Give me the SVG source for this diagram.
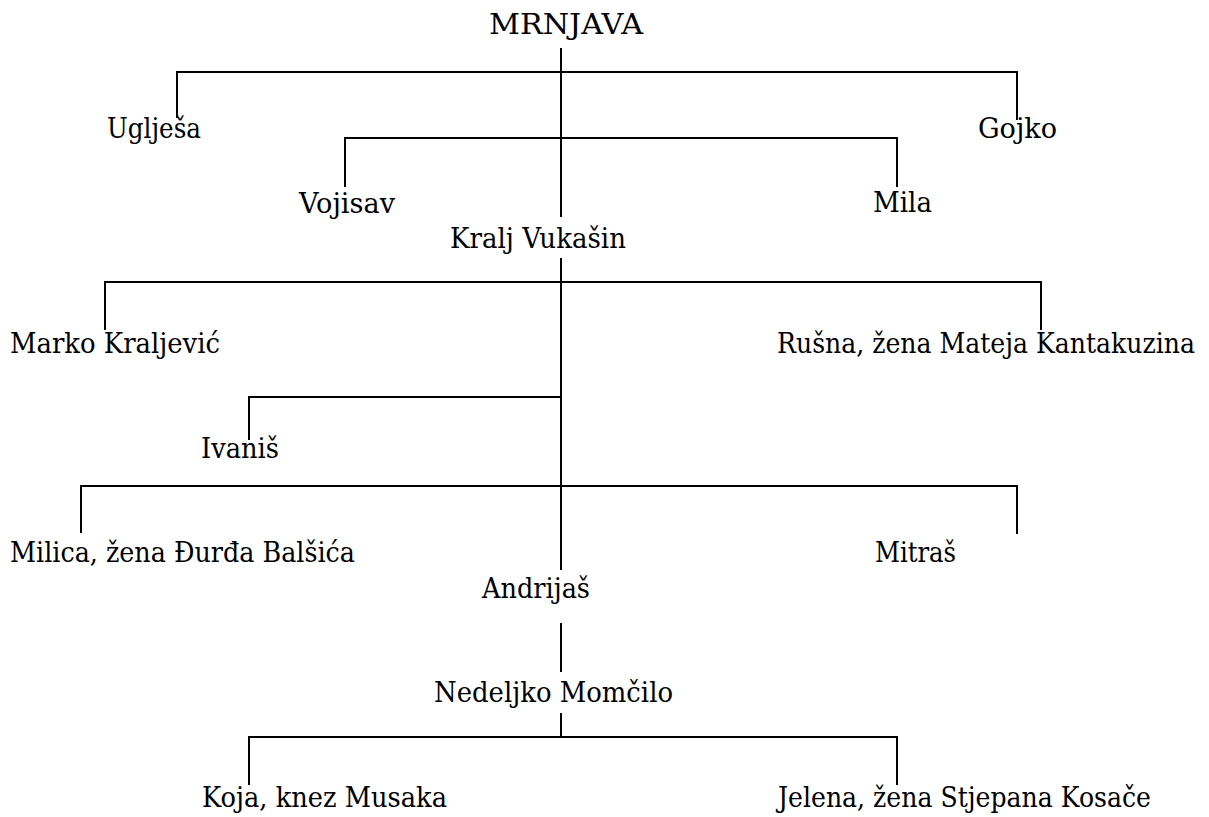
<svg xmlns="http://www.w3.org/2000/svg" width="1209" height="817" viewBox="0 0 1209 817">
<style>
text{font-family:'DejaVu Serif','Noto Serif',serif;font-size:28px;fill:#000}
.c{fill:none;stroke:#000;stroke-width:2}
</style>
<rect width="1209" height="817" fill="#fff"/>
<g id="connectors">
<path class="c" d="M561,48V217"/>
<path class="c" d="M177,118V72H1017V120"/>
<path class="c" d="M345,187V138H897V187"/>
<path class="c" d="M561,258V570"/>
<path class="c" d="M105,330V282H1041V330"/>
<path class="c" d="M249,440V397H561"/>
<path class="c" d="M81,533V486H1017V534"/>
<path class="c" d="M561,623V672"/>
<path class="c" d="M561,713V737"/>
<path class="c" d="M249,785V737H897V785"/>
</g>
<g id="mrnjava"><text x="489" y="34" textLength="154" lengthAdjust="spacingAndGlyphs">MRNJAVA</text></g>
<g id="ugljesa"><text x="107" y="138" textLength="94" lengthAdjust="spacingAndGlyphs">Uglješa</text></g>
<g id="gojko"><text x="978" y="138" textLength="79" lengthAdjust="spacingAndGlyphs">Gojko</text></g>
<g id="vojisav"><text x="299" y="213" textLength="96" lengthAdjust="spacingAndGlyphs">Vojisav</text></g>
<g id="mila"><text x="873" y="212" textLength="59" lengthAdjust="spacingAndGlyphs">Mila</text></g>
<g id="vukasin"><text x="450" y="248" textLength="176" lengthAdjust="spacingAndGlyphs">Kralj Vukašin</text></g>
<g id="marko"><text x="10" y="353" textLength="210" lengthAdjust="spacingAndGlyphs">Marko Kraljević</text></g>
<g id="rusna"><text x="777" y="353" textLength="418" lengthAdjust="spacingAndGlyphs">Rušna, žena Mateja Kantakuzina</text></g>
<g id="ivanis"><text x="201" y="458" textLength="78" lengthAdjust="spacingAndGlyphs">Ivaniš</text></g>
<g id="milica"><text x="10" y="562" textLength="345" lengthAdjust="spacingAndGlyphs">Milica, žena Đurđa Balšića</text></g>
<g id="mitras"><text x="875" y="562" textLength="81" lengthAdjust="spacingAndGlyphs">Mitraš</text></g>
<g id="andrijas"><text x="482" y="598" textLength="108" lengthAdjust="spacingAndGlyphs">Andrijaš</text></g>
<g id="nedeljko"><text x="434" y="702" textLength="239" lengthAdjust="spacingAndGlyphs">Nedeljko Momčilo</text></g>
<g id="koja"><text x="202" y="807" textLength="245" lengthAdjust="spacingAndGlyphs">Koja, knez Musaka</text></g>
<g id="jelena"><text x="778" y="807" textLength="373" lengthAdjust="spacingAndGlyphs">Jelena, žena Stjepana Kosače</text></g>
</svg>
